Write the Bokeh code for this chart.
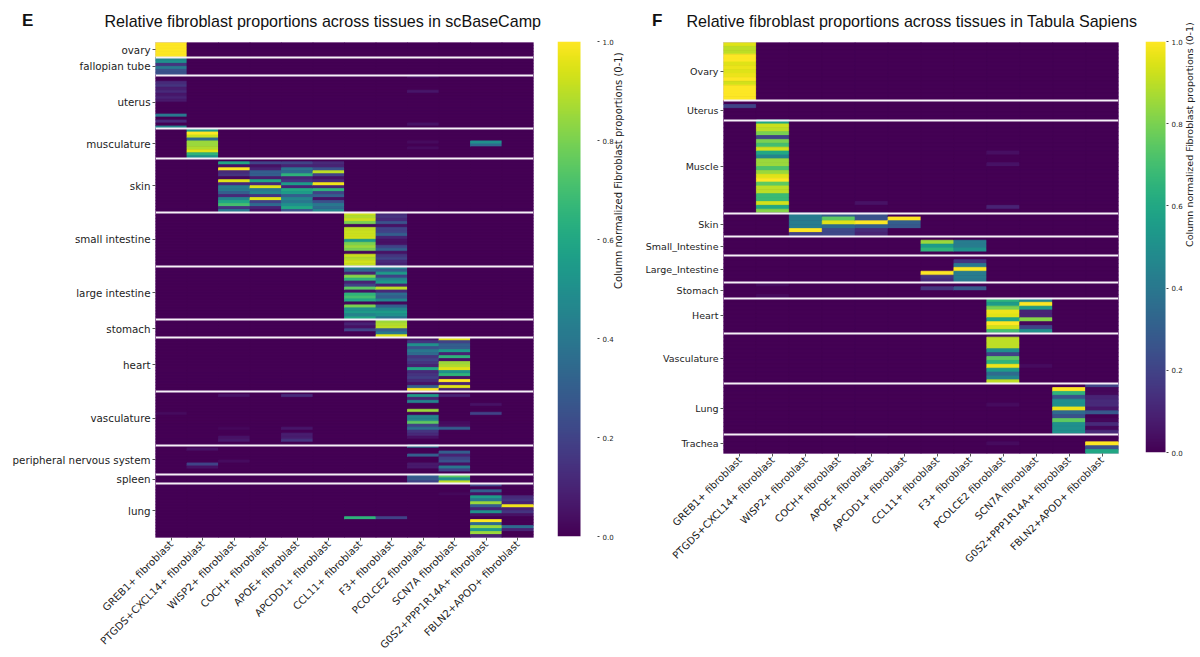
import numpy as np
from math import pi
from bokeh.plotting import figure
from bokeh.layouts import row
from bokeh.models import (ColumnDataSource, FactorRange, Range1d, LinearColorMapper,
                          FixedTicker, Div)
from bokeh.palettes import Viridis256
from bokeh.transform import linear_cmap
from bokeh.embed import file_html
from bokeh.resources import INLINE

columns = ["GREB1+ fibroblast", "PTGDS+CXCL14+ fibroblast", "WISP2+ fibroblast", "COCH+ fibroblast",
           "APOE+ fibroblast", "APCDD1+ fibroblast", "CCL11+ fibroblast", "F3+ fibroblast",
           "PCOLCE2 fibroblast", "SCN7A fibroblast", "G0S2+PPP1R14A+ fibroblast", "FBLN2+APOD+ fibroblast"]

# scBaseCamp: per tissue, {column index: row values}
e_ovary = {0: [1, 1, 1, 1, 1]}
e_fallopian = {0: [.45, .5, .15, .4, .25, .25]}
e_uterus = {0: [0, 0, .12, .15, .08, .12, .06, .1, .07, 0, 0, 0, 0, .4, 0, .12, 0, .45],
            8: [.04, 0, 0, 0, 0, .06, 0, 0, 0, 0, 0, 0, 0, 0, 0, 0, .05, 0]}
e_musculature = {1: [.55, 1, .92, .35, .85, .85, .88, .95, .65, .5],
                 8: [0, 0, 0, 0, .03, 0, .03, 0, 0, 0],
                 10: [0, 0, 0, 0, .5, .35, 0, 0, 0, 0]}
e_skin = {2: [0, .6, .05, 1, .12, .15, .02, .95, .12, .42, .4, .3, .12, .45, .6, .7, .15, .4],
          3: [0, .2, .05, .1, .3, .3, .08, .6, .12, .95, .4, .45, .15, .95, .2, .35, .1, .05],
          4: [0, .2, .1, .38, .35, .65, .1, .15, .55, .1, .6, .55, .3, .45, .4, .5, .6, .25],
          5: [0, .12, .1, .25, .9, .2, .05, .12, .98, .1, .65, .2, .3, .05, .25, .4, .35, .45]}
e_small_intestine = {6: [.92, .88, .92, .8, .02, .9, .92, .92, .93, .55, .8, .85, .8, .02, .92, .88, .93, .92],
                     7: [.12, .15, .12, .25, .05, .2, .2, .3, .1, .05, .05, .2, .3, .05, .15, .2, .12, .1]}
e_large_intestine = {6: [.45, .35, .1, .82, .65, .1, .2, .75, .05, .65, .7, .6, .02, .8, .5, .55, .45, .6],
                     7: [.45, .3, .55, .2, .45, .55, .1, .9, .12, .35, .3, .45, .02, .3, .45, .55, .5, .38]}
e_stomach = {6: [.03, .1, .05, .2, 0, 0],
             7: [.85, .88, .9, .3, .4, .95]}
e_heart = {8: [.05, .15, .5, .25, .4, .35, .15, .2, .15, .1, .6, .12, .15, .18, .12, .05, .3, 1],
           9: [.95, .2, .3, .3, .55, .1, .65, .05, .85, .88, .95, .5, .65, .05, 1, .1, .95, .1]}
e_vasculature = {0: [0, 0, 0, 0, 0, 0, 0, .03, 0, 0, 0, 0, 0, 0, 0, 0, 0, 0],
                 2: [0, .05, 0, 0, 0, 0, 0, 0, 0, 0, 0, 0, .02, 0, 0, .05, .07, 0],
                 4: [0, .12, 0, 0, 0, 0, 0, 0, 0, 0, 0, 0, .06, 0, .08, .08, .15, 0],
                 8: [0, .55, .1, .45, 0, 0, .85, 0, .45, .45, .75, .2, .35, .15, .12, .05, 0, 0],
                 9: [0, .1, 0, 0, 0, 0, 0, 0, 0, 0, .03, .04, .3, 0, 0, 0, 0, 0],
                 10: [0, 0, 0, 0, .05, 0, 0, .2, 0, 0, 0, 0, 0, 0, 0, 0, 0, 0]}
e_pns = {1: [0, .05, 0, 0, 0, 0, .2, .05, 0, 0],
         2: [0, 0, 0, 0, 0, .03, 0, 0, 0, 0],
         8: [.4, 0, 0, .3, 0, 0, .07, .07, 0, 0],
         9: [0, 0, .3, .1, .2, .25, .05, .4, .2, 0]}
e_spleen = {8: [.3, .28, .2],
            9: [.75, .5, .9]}
e_lung = {6: [0, 0, 0, 0, 0, 0, 0, 0, 0, 0, 0, .65, 0, 0, 0, 0, 0, 0],
          7: [0, 0, 0, 0, 0, 0, 0, 0, 0, 0, 0, .2, 0, 0, 0, 0, 0, 0],
          9: [0, 0, 0, .02, 0, 0, 0, 0, 0, 0, 0, 0, 0, 0, 0, 0, 0, 0],
          10: [.2, 0, .3, .05, .55, .4, .85, .3, .1, .5, .05, 0, 1, .35, .85, .55, .85, .1],
          11: [.02, 0, 0, 0, .12, .15, .1, .98, .1, .15, .05, 0, 0, 0, .35, .1, 0, 0]}
e_names = ["ovary", "fallopian tube", "uterus", "musculature", "skin", "small intestine", "large intestine",
           "stomach", "heart", "vasculature", "peripheral nervous system", "spleen", "lung"]
e_blocks = [e_ovary, e_fallopian, e_uterus, e_musculature, e_skin, e_small_intestine, e_large_intestine,
            e_stomach, e_heart, e_vasculature, e_pns, e_spleen, e_lung]

# Tabula Sapiens
f_ovary = {0: [.95, .9, .9, 1, 1, .95, .97, .95, .97, 1, .93, 1, 1, 1, 1]}
f_uterus = {0: [0, .2, 0, 0, 0]}
f_muscle = {1: [.6, .92, .9, .8, .2, .8, .7, .93, .6, .45, .85, .85, .72, .85, .95, 1, .75, .9, .9, .68, .68, .93, .6, .82],
            4: [0] * 21 + [.05, 0, 0],
            8: [0, 0, 0, 0, 0, 0, 0, 0, .04, 0, 0, .05, 0, 0, 0, 0, 0, 0, 0, 0, 0, 0, .1, 0]}
f_skin = {2: [.42, .42, .42, .42, 1, .2],
          3: [.3, .75, .95, .35, .22, .22],
          4: [.25, .25, 1, .3, .12, .1],
          5: [0, 1, .3, .28, 0, 0]}
f_small_intestine = {6: [0, .85, .55, .65, 0],
                     7: [0, .42, .42, .5, 0]}
f_large_intestine = {6: [0, 0, 0, 0, 1, .15, .12],
                     7: [0, .15, .4, 1, .42, .42, .4]}
f_stomach = {1: [.03, 0, 0, .03],
             6: [0, .15, 0, 0],
             7: [0, .28, 0, 0]}
f_heart = {8: [.65, .55, .8, .97, .95, .6, 1, .93, .7],
           9: [.45, 1, .55, .1, .1, .82, .02, .2, .5]}
f_vasculature = {8: [.05, .9, .9, .9, .5, .2, .75, .65, .97, .55, .35, .45, .9],
                 9: [0, 0, 0, 0, 0, 0, 0, 0, .03, 0, 0, 0, 0]}
f_lung = {8: [0, 0, 0, 0, 0, .03, 0, 0, 0, 0, 0, 0, 0],
          10: [0, 1, .65, .25, .5, .5, .97, .35, .25, .75, .5, .5, .5],
          11: [.2, .02, .02, .1, .12, .12, .06, .28, 0, .02, .12, .02, .12]}
f_trachea = {4: [.02, 0, 0, 0, 0],
             8: [0, 0, .03, 0, 0],
             11: [0, 0, 1, .25, .6]}
f_names = ["Ovary", "Uterus", "Muscle", "Skin", "Small_Intestine", "Large_Intestine", "Stomach", "Heart",
           "Vasculature", "Lung", "Trachea"]
f_blocks = [f_ovary, f_uterus, f_muscle, f_skin, f_small_intestine, f_large_intestine, f_stomach, f_heart,
            f_vasculature, f_lung, f_trachea]

cbar_ticks = [0.0, 0.2, 0.4, 0.6, 0.8, 1.0]
cbar_title = "Column normalized Fibroblast proportions (0-1)"
VMIN, VMAX = 0.0, 1.0
INK = "#1c1c1c"


def heatmap(names, blocks, title, frame_w, frame_h, left, right, top,
            title_offset, ylabel_px, xlabel_px):
    xs, ys, vs, centres, bounds, labels = [], [], [], [], [], {}
    pos = 0
    for name, block in zip(names, blocks):
        n = len(next(iter(block.values())))
        for c, col in enumerate(columns):
            vals = block.get(c, [0] * n)
            for r, v in enumerate(vals):
                xs.append(col)
                ys.append(pos + r + .5)
                vs.append(v)
        centre = pos + n / 2
        centres.append(centre)
        labels[centre] = name
        pos += n
        bounds.append(pos)
    p = figure(frame_width=frame_w, frame_height=frame_h,
               x_range=FactorRange(factors=columns, range_padding=0),
               y_range=Range1d(pos, 0), output_backend="svg", toolbar_location=None,
               min_border_left=left, min_border_right=right, min_border_top=top, min_border_bottom=0,
               background_fill_color=Viridis256[0], border_fill_color="#ffffff", frame_align=False)
    src = ColumnDataSource(dict(x=xs, y=ys, v=vs))
    cm = linear_cmap("v", Viridis256, VMIN, VMAX)
    p.rect("x", "y", width=1, height=1, source=src, fill_color=cm, line_color=cm, line_width=.8)
    p.hspan(y=bounds[:-1], line_color="#f6f0f8", line_width=1.9)
    p.grid.visible = False
    p.outline_line_color = "#dcc6e4"
    p.outline_line_width = 1

    ya = p.yaxis[0]
    ya.ticker = FixedTicker(ticks=centres)
    ya.major_label_overrides = labels
    ya.major_label_text_font = "DejaVu Sans"
    ya.major_label_text_font_size = ylabel_px
    ya.major_label_text_color = INK
    ya.major_tick_in = 0
    ya.major_tick_out = 3
    ya.major_tick_line_color = "#555555"
    ya.minor_tick_line_color = None
    ya.axis_line_color = None
    ya.major_label_standoff = 2

    xa = p.xaxis[0]
    xa.major_label_orientation = pi / 4
    xa.major_label_text_font = "DejaVu Sans"
    xa.major_label_text_font_size = xlabel_px
    xa.major_label_text_color = INK
    xa.major_tick_in = 0
    xa.major_tick_out = 3
    xa.major_tick_line_color = "#555555"
    xa.axis_line_color = None
    xa.major_label_standoff = 2

    p.title.text = title
    p.title.align = "left"
    p.title.vertical_align = "top"
    p.title.offset = title_offset
    p.title.standoff = 22
    p.title.text_font = "Liberation Sans"
    p.title.text_font_size = "16.1px"
    p.title.text_font_style = "normal"
    p.title.text_color = "#111111"
    return p


def colorbar(frame_h, bar_px, frame_px, right, top, tick_px, label_px, title_px, standoff):
    p = figure(frame_width=frame_px, frame_height=frame_h, x_range=Range1d(0, frame_px),
               y_range=Range1d(VMIN, VMAX),
               output_backend="svg", toolbar_location=None, y_axis_location="right",
               min_border_left=0, min_border_right=right, min_border_top=top, min_border_bottom=10,
               background_fill_color="#ffffff", border_fill_color="#ffffff", frame_align=False)
    mapper = LinearColorMapper(palette=Viridis256, low=VMIN, high=VMAX)
    gradient = np.linspace(VMIN, VMAX, 256).reshape(256, 1)
    p.image(image=[gradient], x=0, y=VMIN, dw=bar_px, dh=VMAX - VMIN, color_mapper=mapper)
    p.grid.visible = False
    p.outline_line_color = None
    p.xaxis.visible = False
    ya = p.yaxis[0]
    ya.ticker = FixedTicker(ticks=cbar_ticks)
    ya.major_label_overrides = {t: f"{t:.1f}" for t in cbar_ticks}
    ya.major_tick_in = 0
    ya.major_tick_out = tick_px
    ya.major_tick_line_color = "#444444"
    ya.minor_tick_line_color = None
    ya.axis_line_color = None
    ya.major_label_standoff = 3
    ya.major_label_text_font = "DejaVu Sans"
    ya.major_label_text_font_size = label_px
    ya.major_label_text_color = INK
    ya.axis_label = cbar_title
    ya.axis_label_text_font = "DejaVu Sans"
    ya.axis_label_text_font_style = "normal"
    ya.axis_label_text_font_size = title_px
    ya.axis_label_text_color = INK
    ya.axis_label_standoff = standoff
    ya.axis_label_orientation = pi / 2
    ya.axis_label_text_align = "center"
    return p


def panel_letter(text, x, y):
    return Div(text=text, width=0, height=0, margin=0,
               styles={"position": "relative", "left": x, "top": y, "z-index": "10", "white-space": "nowrap",
                       "font-family": "Liberation Sans", "font-weight": "bold", "font-size": "17px",
                       "color": "#111111"})


TOP = 41
pe = heatmap(e_names, e_blocks, "Relative fibroblast proportions across tissues in scBaseCamp",
             378, 495, 155, 24, TOP, -51, "10.3px", "10.2px")
ce = colorbar(495, 23, 40, 43, TOP, 2, "7px", "10px", 2)
pf = heatmap(f_names, f_blocks, "Relative fibroblast proportions across tissues in Tabula Sapiens",
             395, 411, 83, 27, TOP, -37, "9.5px", "10px")
cf = colorbar(411, 20, 21, 25, TOP, 2, "7px", "9.5px", 4)

page = row(panel_letter("E", "22px", "9px"), panel_letter("F", "652px", "9px"), pe, ce, pf, cf, spacing=0)
open("out.html", "w").write(file_html(page, INLINE))
